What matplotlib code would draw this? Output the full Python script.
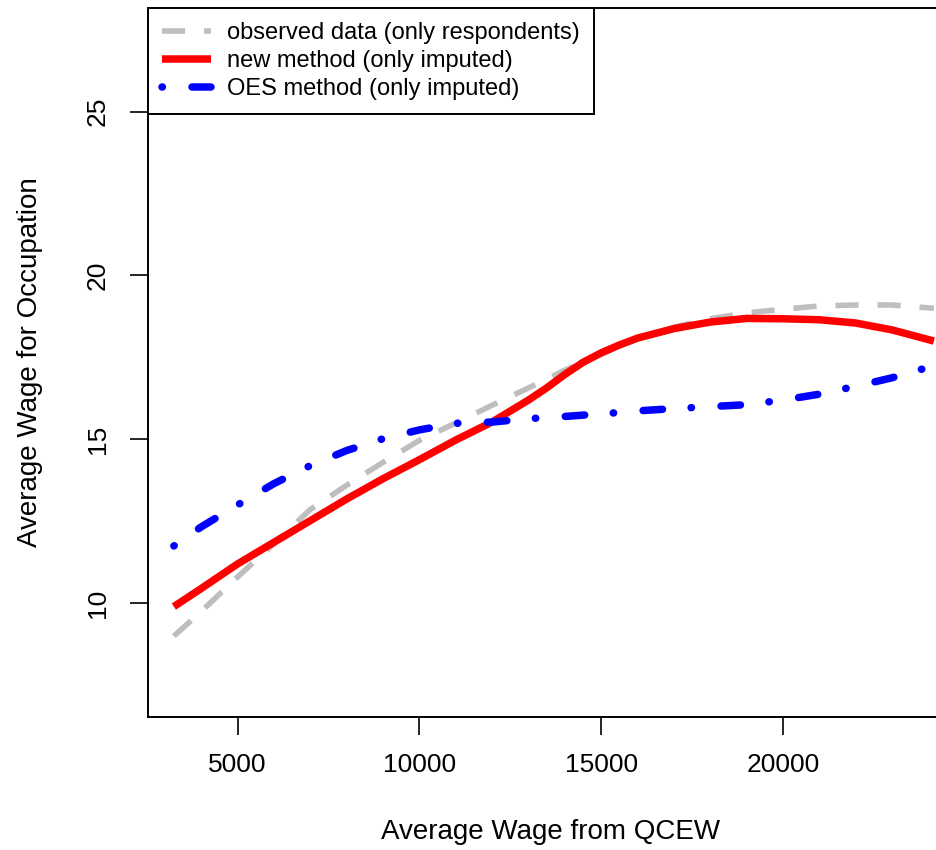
import numpy as np
import matplotlib
matplotlib.use("Agg")
import matplotlib.pyplot as plt

plt.rcParams['font.family'] = ['Liberation Sans', 'DejaVu Sans']
plt.rcParams['lines.scale_dashes'] = False

# average QCEW wage on the x axis, smoothed occupation wage per series
qcew_wage = [3250, 4000, 5000, 6000, 7000, 8000, 9000, 10000, 11000, 12000, 13000, 13500,
             14000, 14500, 15000, 15500, 16000, 17000, 18000, 19000, 20000, 21000, 22000,
             23000, 24150]
observed = [9.0, 9.75, 10.8, 11.82, 12.86, 13.6, 14.3, 14.97, 15.5, 16.04, 16.57, 16.84,
            17.11, 17.36, 17.6, 17.84, 18.07, 18.42, 18.68, 18.86, 18.97, 19.07, 19.1,
            19.1, 19.0]
new_method = [9.9, 10.45, 11.2, 11.86, 12.52, 13.18, 13.8, 14.38, 14.98, 15.53, 16.2, 16.57,
              16.98, 17.35, 17.64, 17.88, 18.09, 18.38, 18.58, 18.69, 18.68, 18.65, 18.55,
              18.34, 18.0]
oes_method = [11.75, 12.33, 13.0, 13.65, 14.2, 14.66, 15.02, 15.29, 15.49, 15.53, 15.63, 15.67,
              15.7, 15.74, 15.78, 15.82, 15.87, 15.94, 16.0, 16.06, 16.2, 16.38, 16.62,
              16.88, 17.25]

xticks = [5000, 10000, 15000, 20000]
yticks = [10, 15, 20, 25]

fig = plt.figure(figsize=(9.37, 8.5), dpi=100)
ax = fig.add_axes([147.5 / 937, (850 - 716.6) / 850, (937 - 147.5) / 937, (716.6 - 8) / 850])

ax.plot(qcew_wage, observed, color='#BEBEBE', lw=4.0, linestyle=(0, (16.6, 13.7)),
        dash_capstyle='butt', label='observed data (only respondents)')
ax.plot(qcew_wage, new_method, color='#FF0000', lw=5.4, solid_capstyle='butt',
        solid_joinstyle='round', label='new method (only imputed)')
ax.plot(qcew_wage, oes_method, color='#0000FF', lw=5.4, linestyle=(0, (0.3, 21.3, 14, 20.6)),
        dash_capstyle='round', label='OES method (only imputed)')

ax.set_xlim(2525, 24235)
ax.set_ylim(6.544, 28.16)
ax.set_xticks(xticks)
ax.set_yticks(yticks)
ax.set_xticklabels([str(v) for v in xticks])
ax.set_yticklabels([str(v) for v in yticks], rotation=90, va='center')
ax.tick_params(direction='out', length=13, width=1.2, labelsize=19, pad=13)
ax.tick_params(axis='y', pad=14)
ax.spines['right'].set_visible(False)
for s in ['left', 'bottom', 'top']:
    ax.spines[s].set_linewidth(1.4)

ax.set_xlabel('Average Wage from QCEW', fontsize=20)
ax.set_ylabel('Average Wage for Occupation', fontsize=20)
ax.xaxis.set_label_coords(0.51, -0.163)
ax.xaxis.label.set_va('center')
ax.yaxis.set_label_coords(-0.1488, 0.5)
ax.yaxis.label.set_va('center')

leg = ax.legend(loc='upper left', bbox_to_anchor=(0, 1), borderaxespad=0, fontsize=17,
                handlelength=2.1, handletextpad=0.68, labelspacing=0.25,
                fancybox=False, framealpha=1, edgecolor='black', borderpad=0.6)
leg.get_frame().set_linewidth(1.4)

fig.savefig('out.png', dpi=100)
